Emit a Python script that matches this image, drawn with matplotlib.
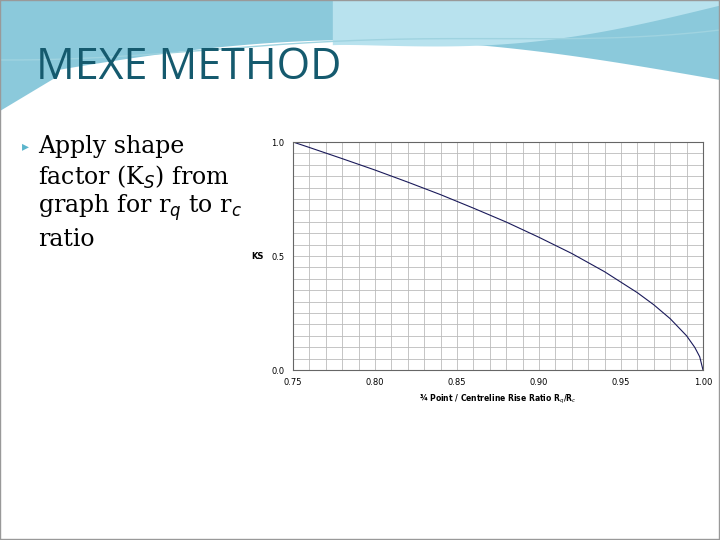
import numpy as np
import matplotlib
matplotlib.use("Agg")
import matplotlib.pyplot as plt

ratio = [0.75, 0.76, 0.78, 0.80, 0.82, 0.84, 0.86, 0.88, 0.90, 0.92, 0.94, 0.96, 0.97, 0.98, 0.99, 0.995, 0.998, 1.00]
ks = [1.00, 0.976, 0.927, 0.877, 0.824, 0.769, 0.710, 0.649, 0.582, 0.511, 0.431, 0.339, 0.286, 0.225, 0.150, 0.099, 0.058, 0.0]
xticks = [0.75, 0.80, 0.85, 0.90, 0.95, 1.00]
yticks = [0.0, 0.5, 1.0]

W, H = 720, 540
fig = plt.figure(figsize=(7.2, 5.4), dpi=100)

bg = fig.add_axes([0, 0, 1, 1])
bg.set_xlim(0, W); bg.set_ylim(H, 0); bg.axis('off')
xs = np.linspace(0, W, 300)
lower = 80 - 40*np.sin(xs/W*np.pi)
lower = np.where(xs < 60, np.maximum(lower, 75 + (60-xs)*0.6), lower)
bg.fill_between(xs, 0, lower, color='#7fc3d8', alpha=0.9, lw=0)
sel = xs > 330
bg.fill_between(xs[sel], 0, 45 - 40*((xs[sel]-330)/390)**0.8 + 20*np.sin((xs[sel]-330)/390*np.pi), color='#b8e2ee', lw=0)
bg.plot(xs, 52 + 8*np.sin(xs/W*2*np.pi + 1.5) - 30*(xs/W)**3, color='#9fd3e0', lw=1)
bg.plot([0, W-1, W-1, 0, 0], [0, 0, H-1, H-1, 0], color='#999999', lw=1)
bg.text(36, 68, "MEXE METHOD", fontsize=31, color='#155a6e', va='center', ha='left', family='Open Sans')
bg.text(22, 146, "\u25b8", fontsize=10, color='#5bb5cc', va='center')
bg.text(38, 146, "Apply shape", fontsize=17, va='center', family='DejaVu Serif')
bg.text(38, 177, "factor (K$_S$) from", fontsize=17, va='center', family='DejaVu Serif')
bg.text(38, 208, "graph for r$_q$ to r$_c$", fontsize=17, va='center', family='DejaVu Serif')
bg.text(38, 239, "ratio", fontsize=17, va='center', family='DejaVu Serif')

l, r, t, b = 293, 703, 142, 370
ax = fig.add_axes([l/W, 1 - b/H, (r-l)/W, (b-t)/H])
ax.plot(ratio, ks, color='#1a1a5a', lw=0.8)
ax.set_xlim(0.75, 1.0); ax.set_ylim(0, 1.0)
ax.set_xticks(xticks); ax.set_yticks(yticks)
ax.set_xticklabels([f"{v:.2f}" for v in xticks], fontsize=6)
ax.set_yticklabels([f"{v:.1f}" for v in yticks], fontsize=6)
ax.set_xticks(np.arange(0.75, 1.001, 0.01), minor=True)
ax.set_yticks(np.arange(0, 1.001, 0.05), minor=True)
ax.grid(which='both', color='#bbbbbb', lw=0.6)
ax.tick_params(which='both', length=0, pad=6)
for s in ax.spines.values():
    s.set_color('#666666'); s.set_linewidth(0.8)
ax.set_xlabel("¾ Point / Centreline Rise Ratio R$_q$/R$_c$", fontsize=5.5, fontweight='bold', labelpad=4)
ax.set_ylabel("KS", fontsize=6, fontweight='bold', rotation=0, labelpad=10, va='center')
fig.savefig("out.png", dpi=100)
